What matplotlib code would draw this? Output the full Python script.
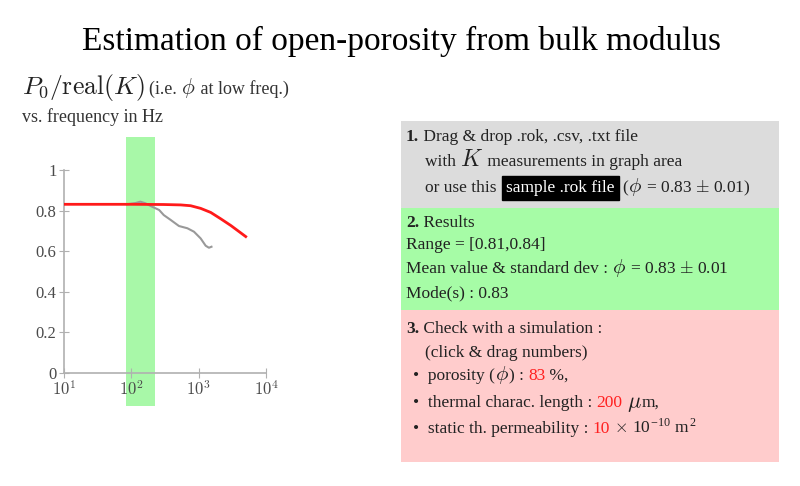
import matplotlib
matplotlib.use("Agg")
import matplotlib.pyplot as plt
import numpy as np
from matplotlib.patches import Rectangle

plt.rcParams['font.family'] = ['Liberation Serif', 'DejaVu Serif']
plt.rcParams['mathtext.fontset'] = 'cm'

# Data
freq_model = [10, 100, 300, 540, 760, 1070, 1510, 2140, 3020, 5000]
phi_model = [0.831, 0.831, 0.830, 0.828, 0.824, 0.811, 0.791, 0.759, 0.726, 0.672]

freq_meas = [86, 115, 136, 162, 204, 259, 303, 384, 510, 680, 852, 1070, 1270, 1420, 1550]
phi_meas = [0.831, 0.837, 0.844, 0.836, 0.819, 0.803, 0.778, 0.754, 0.724, 0.713,
            0.696, 0.663, 0.627, 0.617, 0.622]

band = (84, 228)  # selected frequency range
xticks = [10, 100, 1000, 10000]
xticklabels = ['$10^1$', '$10^2$', '$10^3$', '$10^4$']
yticks = [0, 0.2, 0.4, 0.6, 0.8, 1]
yticklabels = ['0', '0.2', '0.4', '0.6', '0.8', '1']

W, H = 800, 486
fig = plt.figure(figsize=(W / 100, H / 100), dpi=100)


def px(x, y):
    return x / W, 1 - y / H


# plot area
ax = fig.add_axes([64 / W, 1 - 373 / H, 202 / W, 203 / H])
ax.set_xscale('log')
ax.set_xlim(10, 10000)
ax.set_ylim(0, 1)
ax.axvspan(band[0], band[1], ymin=-0.163, ymax=1.163, color='#a8f8a8',
           clip_on=False, zorder=0, lw=0)
ax.plot(freq_meas, phi_meas, color='#999999', lw=1.5, zorder=2)
ax.plot(freq_model, phi_model, color='#ff1a1a', lw=2, zorder=3)
ax.set_xticks(xticks)
ax.set_xticklabels(xticklabels)
ax.xaxis.set_minor_locator(matplotlib.ticker.NullLocator())
ax.set_yticks(yticks)
ax.set_yticklabels(yticklabels)
for s in ['top', 'right']:
    ax.spines[s].set_visible(False)
for s in ['left', 'bottom']:
    ax.spines[s].set_color('#b0b0b0')
    ax.spines[s].set_linewidth(1.2)
ax.tick_params(direction='inout', length=7, color='#b0b0b0', labelcolor='#4a4a4a',
               labelsize=12, pad=2)
ax.patch.set_alpha(0)

# titles
fig.text(*px(401, 50), 'Estimation of open-porosity from bulk modulus',
         ha='center', va='baseline', fontsize=24, color='black')
fig.text(*px(22, 94), r'$P_0/\mathrm{real}(K)$', fontsize=18.5, va='baseline', color='#222222')
xe = 149
for s, size in [('(i.e. ', 13), (r'$\phi$', 15.5), (' at low freq.)', 13)]:
    t = fig.text(*px(xe, 94), s, fontsize=size, va='baseline', color='#333333')
    xe += t.get_window_extent(fig.canvas.get_renderer()).width
fig.text(*px(22, 122), 'vs. frequency in Hz', fontsize=13, va='baseline', color='#333333')

# right panel boxes
for y0, y1, c in [(121, 208, '#dcdcdc'), (208, 310, '#a6fca6'), (310, 462, '#ffcccc')]:
    fig.patches.append(Rectangle(px(401, y1), 378 / W, (y1 - y0) / H,
                                 transform=fig.transFigure, color=c, lw=0, zorder=0))

renderer = fig.canvas.get_renderer()
FS = 12.5
PHI = 15
TXT = '#222222'


def runs(x, y, parts):
    for s, kw in parts:
        opts = dict(fontsize=FS, color=TXT, va='baseline')
        opts.update(kw)
        t = fig.text(*px(x, y), s, **opts)
        x += t.get_window_extent(renderer).width
    return x


runs(406, 141, [('1.', dict(weight='bold')), (' Drag & drop .rok, .csv, .txt file', {})])
runs(425, 166, [('with ', {}), ('$K$', dict(fontsize=17)), (' measurements in graph area', {})])
xe = runs(425, 192, [('or use this ', {})])
t = fig.text(*px(xe + 5, 192), 'sample .rok file', fontsize=FS, color='white', va='baseline',
             bbox=dict(boxstyle='square,pad=0.25', fc='black', ec='black'))
xe = xe + 5 + t.get_window_extent(renderer).width + 8
runs(xe, 192, [('(', {}), (r'$\phi$', dict(fontsize=PHI)), (r' = 0.83 $\pm$ 0.01)', {})])

runs(406, 227, [('2.', dict(weight='bold')), (' Results', {})])
runs(406, 249, [('Range = [0.81,0.84]', {})])
runs(406, 273, [('Mean value & standard dev : ', {}), (r'$\phi$', dict(fontsize=PHI)),
                (r' = 0.83 $\pm$ 0.01', {})])
runs(406, 297, [('Mode(s) : 0.83', {})])

runs(406, 333, [('3.', dict(weight='bold')), (' Check with a simulation :', {})])
runs(425, 357, [('(click & drag numbers)', {})])
RED = '#ff2020'
runs(413, 380, [('•  porosity (', {}), (r'$\phi$', dict(fontsize=PHI)), (') : ', {}),
                ('83', dict(color=RED)), (' %,', {})])
runs(413, 407, [('•  thermal charac. length : ', {}), ('200', dict(color=RED)),
                (' ', {}), (r'$\mu$', dict(fontsize=16)), ('m,', {})])
runs(413, 433, [('•  static th. permeability : ', {}), ('10', dict(color=RED)),
                (r' $\times$ 10$^{\mathregular{-10}}$ m$^{\mathregular{2}}$', {})])

fig.savefig('out.png', dpi=100)
